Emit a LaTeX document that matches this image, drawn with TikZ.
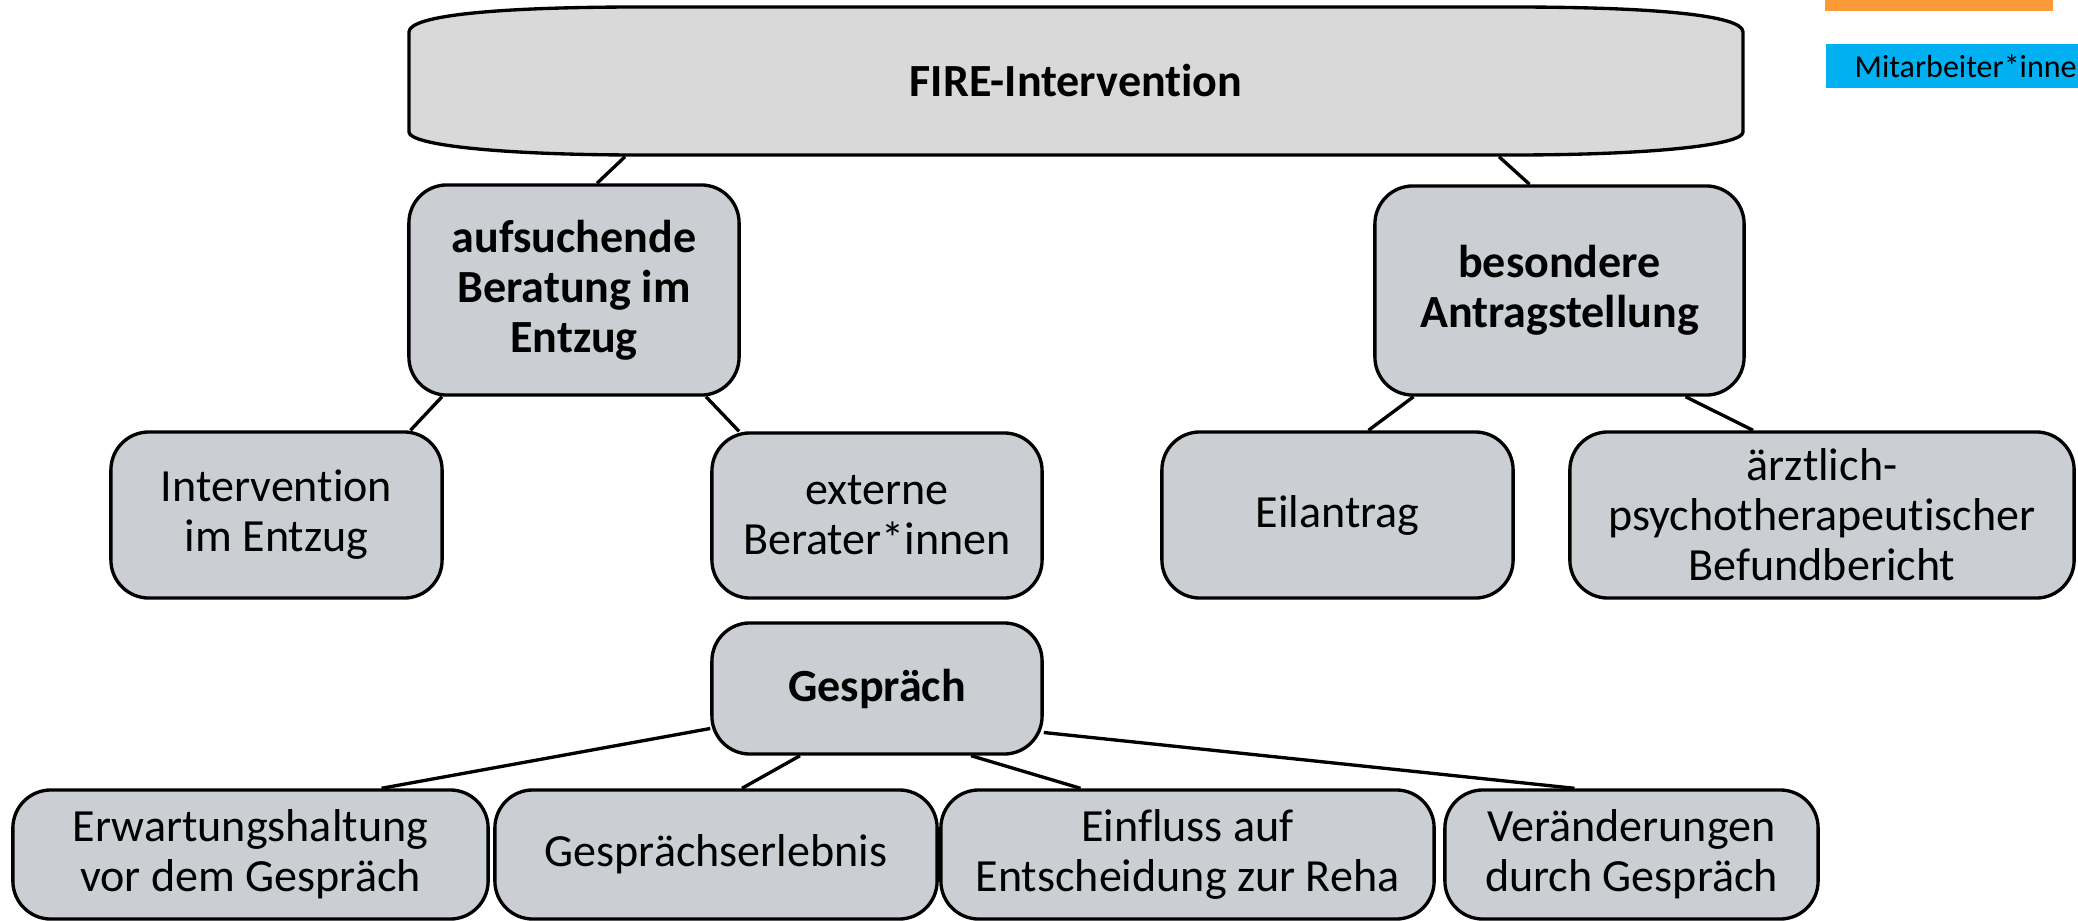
\documentclass[tikz,border=0pt]{standalone}
\usepackage{fontspec}
\setmainfont{Carlito}[Ligatures=NoCommon]
\usetikzlibrary{calc}

\definecolor{topgrey}{RGB}{217,217,217}
\definecolor{boxgrey}{RGB}{203,206,210}
\definecolor{legendblue}{RGB}{0,176,240}
\definecolor{legendorange}{RGB}{250,155,55}

\begin{document}
\begin{tikzpicture}[x=0.01cm, y=-0.01cm, every path/.style={line width=0.95pt},
  main node/.style={draw, fill=boxgrey, rounded corners=0.38cm, align=center, inner sep=0pt, font=\fontsize{13.1pt}{14.2pt}\selectfont},
  bold node/.style={main node, font=\fontsize{13.1pt}{14.2pt}\selectfont\bfseries}]
\useasboundingbox (0,0) rectangle (2078,921);

% legend (cut off at the border)
\fill[legendorange] (1825,0) rectangle (2053,11);
\node[fill=legendblue, anchor=west, inner xsep=0.29cm, inner ysep=0pt, minimum height=0.44cm, text width=2.6cm, align=left, font=\fontsize{9.1pt}{10pt}\selectfont] (staff) at (1824,66) {Mitarbeiter*inne};

% top
\draw[fill=topgrey] (409,32) .. controls (409,15) and (500,7) .. (640,7) -- (1512,7) .. controls (1652,7) and (1743,15) .. (1743,32) -- (1743,132) .. controls (1743,145) and (1652,155) .. (1512,155) -- (640,155) .. controls (500,155) and (409,145) .. (409,132) -- cycle;
\node[inner sep=0pt, minimum width=13.34cm, minimum height=1.48cm, font=\fontsize{13.1pt}{14.2pt}\selectfont\bfseries] (top) at (1076,81) {FIRE-Intervention};

\node[bold node, minimum width=3.30cm, minimum height=2.10cm] (A) at (574,290) {aufsuchende\\Beratung im\\Entzug};
\node[bold node, minimum width=3.69cm, minimum height=2.09cm] (B) at (1559.5,290.5) {besondere\\Antragstellung};

\node[main node, minimum width=3.31cm, minimum height=1.66cm] (C) at (276.5,515) {Intervention\\im Entzug};
\node[main node, minimum width=3.30cm, minimum height=1.65cm] (D) at (877,515.5) {externe\\Berater*innen};
\node[main node, minimum width=3.51cm, minimum height=1.66cm] (E) at (1337.5,515) {Eilantrag};
\node[main node, minimum width=5.04cm, minimum height=1.66cm] (F) at (1822,515) {ärztlich-\\psychotherapeutischer\\Befundbericht};

\node[bold node, minimum width=3.30cm, minimum height=1.31cm] (G) at (877,688.5) {Gespräch};

\node[main node, minimum width=4.75cm, minimum height=1.29cm] (H) at (250.5,854.5) {Erwartungshaltung\\vor dem Gespräch};
\node[main node, minimum width=4.42cm, minimum height=1.29cm] (I) at (716,854.5) {Gesprächserlebnis};
\node[main node, minimum width=4.93cm, minimum height=1.29cm] (J) at (1187.5,854.5) {Einfluss auf\\Entscheidung zur Reha};
\node[main node, minimum width=3.73cm, minimum height=1.29cm] (K) at (1631.5,854.5) {Veränderungen\\durch Gespräch};

\draw ($(top.south)+(-451,0)$) -- ($(A.north)+(23,0)$);
\draw ($(top.south)+(423,0)$) -- ($(B.north)+(-30,0)$);
\draw ($(A.south)+(-132,0)$) -- ($(C.north)+(134,0)$);
\draw ($(A.south)+(132,0)$) -- ($(D.north)+(-138,0)$);
\draw ($(B.south)+(-146,0)$) -- ($(E.north)+(31,0)$);
\draw ($(B.south)+(126,0)$) -- ($(F.north)+(-69,0)$);
\draw ($(G.west)+(0,40)$) -- ($(H.north)+(131,0)$);
\draw ($(G.south)+(-77,0)$) -- ($(I.north)+(26,0)$);
\draw ($(G.south)+(94,0)$) -- ($(J.north)+(-107,0)$);
\draw ($(G.east)+(0,44)$) -- ($(K.north)+(-57,0)$);
\end{tikzpicture}
\end{document}
